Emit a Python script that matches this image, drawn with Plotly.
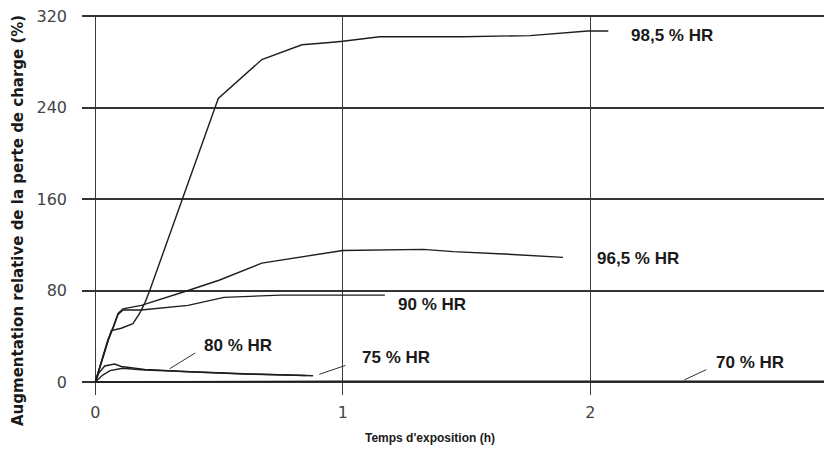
import plotly.graph_objects as go

# ---- data ----
t_985 = [0, 0.017, 0.065, 0.105, 0.152, 0.179, 0.2, 0.22, 0.497, 0.673, 0.835, 0.948, 1.0, 1.149, 1.487, 1.757, 1.877, 1.99, 2.073]
y_985 = [0, 12, 45, 47, 51, 60, 69, 80, 248, 282, 295, 297, 298, 302, 302, 303, 305, 307, 307]

t_965 = [0, 0.017, 0.031, 0.051, 0.072, 0.092, 0.112, 0.186, 0.375, 0.5, 0.673, 1.0, 1.325, 1.447, 1.65, 1.89]
y_965 = [0, 13, 24, 37, 48, 60, 64, 67, 80, 89, 104, 115, 116, 114, 112, 109]

t_90 = [0, 0.017, 0.031, 0.051, 0.072, 0.092, 0.112, 0.186, 0.375, 0.52, 0.75, 1.0, 1.17]
y_90 = [0, 12, 23, 36, 47, 59, 63, 63, 67, 74, 76, 76, 76]

t_80 = [0, 0.015, 0.038, 0.078, 0.105, 0.2, 0.375, 0.6, 0.85]
y_80 = [0, 8, 14, 15.7, 13.5, 11, 9, 7, 5.6]

t_75 = [0, 0.03, 0.06, 0.11, 0.2, 0.375, 0.6, 0.88]
y_75 = [0, 6, 10, 12, 10.5, 9, 7.2, 5.4]

t_70 = [0, 0.5, 1.0, 1.5, 2.0, 2.5, 2.95]
y_70 = [0, 0.6, 0.6, 0.6, 0.6, 0.6, 0.6]

series = [
    ("98,5 % HR", t_985, y_985),
    ("96,5 % HR", t_965, y_965),
    ("90 % HR", t_90, y_90),
    ("80 % HR", t_80, y_80),
    ("75 % HR", t_75, y_75),
    ("70 % HR", t_70, y_70),
]

# label positions (data coords, left-anchored)
label_x = [2.155, 2.018, 1.216, 0.43, 1.07, 2.50]
label_y = [303, 108, 68, 32, 21, 17]

# pointer lines: (curve point) -> (tail near label)
ptr_x = [0.30, 0.905, 2.38]
ptr_y = [11.5, 6.7, 1.8]
ptr_ax = [0.41, 1.017, 2.475]
ptr_ay = [26.2, 14.9, 11.4]

x_ticks = [0, 1, 2, 3]
y_ticks = [0, 80, 160, 240, 320]

fig = go.Figure()
for name, t, y in series:
    fig.add_trace(go.Scatter(x=t, y=y, mode="lines", name=name,
                             line=dict(color="#1e1e1e", width=1.4),
                             showlegend=False, hoverinfo="skip"))

for (name, _, _), lx, ly in zip(series, label_x, label_y):
    fig.add_annotation(x=lx, y=ly, text="<b>" + name + "</b>", showarrow=False,
                       xanchor="left", yanchor="middle",
                       font=dict(family="Liberation Sans", size=17, color="#1a1a1a"))

for px_, py_, ax_, ay_ in zip(ptr_x, ptr_y, ptr_ax, ptr_ay):
    fig.add_annotation(x=px_, y=py_, ax=ax_, ay=ay_, axref="x", ayref="y",
                       text="", showarrow=True, arrowhead=0, arrowwidth=1,
                       arrowcolor="#333333")

fig.add_annotation(x=0.464, y=0.0, xref="paper", yref="paper", yshift=-43,
                   xanchor="center", yanchor="middle",
                   text="<b>Temps d'exposition (h)</b>", showarrow=False,
                   font=dict(family="Liberation Sans", size=12, color="#1a1a1a"))
fig.add_annotation(x=0, y=0.5, xref="paper", yref="paper", xshift=-64, yshift=-16,
                   xanchor="center", yanchor="middle",
                   text="<b>Augmentation relative de la perte de charge (%)</b>",
                   textangle=-90, showarrow=False,
                   font=dict(family="DejaVu Sans", size=15, color="#1a1a1a"))

fig.update_xaxes(range=[-0.0537, 2.977], tickvals=x_ticks,
                 ticktext=[str(v) for v in x_ticks],
                 showgrid=True, gridcolor="#3a3a3a", gridwidth=1.4,
                 zeroline=False, showline=False, ticks="",
                 ticklabelstandoff=6,
                 tickfont=dict(family="DejaVu Sans", size=16, color="#444444"))
fig.update_yaxes(range=[-11.4, 321], tickvals=y_ticks,
                 ticktext=[str(v) for v in y_ticks],
                 showgrid=True, gridcolor="#333333", gridwidth=2,
                 zeroline=False, showline=False, ticks="",
                 ticklabelstandoff=14, ticklabeloverflow="allow",
                 tickfont=dict(family="DejaVu Sans", size=16, color="#444444"))

fig.update_layout(width=824, height=453,
                  margin=dict(l=74, r=0, t=7, b=66),
                  paper_bgcolor="white", plot_bgcolor="white")

fig.write_html("out.html")
